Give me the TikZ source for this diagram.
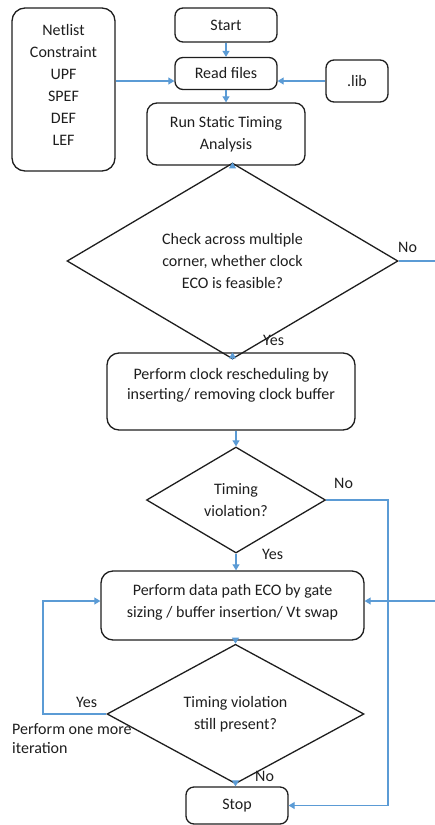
\documentclass[tikz,border=0pt]{standalone}
\usepackage{fontspec}
\setmainfont{Carlito}
\usetikzlibrary{shapes.geometric,arrows.meta}
\definecolor{arrblue}{HTML}{5B9BD5}
\definecolor{ink}{HTML}{1E1E1E}
\tikzset{
  box/.style={draw=ink, line width=1.3pt, rounded corners=8pt, align=center, inner sep=0pt},
  dia/.style={draw=ink, line width=1.3pt, diamond, align=center, inner sep=0pt},
  arr/.style={draw=arrblue, line width=1.1pt, -{Triangle[length=6pt,width=7pt]}},
  wire/.style={draw=arrblue, line width=1.1pt},
  lbl/.style={anchor=base west, inner sep=0pt, text=ink}
}
\begin{document}
\begin{tikzpicture}[x=1pt, y=-1pt, font=\fontsize{16}{22}\selectfont, text=ink]
\useasboundingbox (0,0) rectangle (435,825);
% nodes
\node[box, rounded corners=13pt] (net) at (63.5,89.5)
  {\parbox[c][163pt][t]{103pt}{\fontsize{16}{22}\selectfont\centering\vspace*{16pt}Netlist\\Constraint\\UPF\\SPEF\\DEF\\LEF}};
\node[box, minimum width=102pt, minimum height=34pt] (start) at (226,25) {Start};
\node[box, minimum width=102pt, minimum height=32pt] (read) at (226,73.5) {Read files};
\node[box, minimum width=62pt, minimum height=42pt] (lib) at (357,81) {.lib};
\node[box, rounded corners=10pt, minimum width=158pt, minimum height=62pt] (sta) at (226,134) {Run Static Timing\\Analysis};
\node[dia, minimum width=331pt, minimum height=152pt] (d1) at (232.5,261) {Check across multiple\\corner, whether clock\\ECO is feasible?};
\node[box, rounded corners=12pt] (clk) at (231,391.5)
  {\parbox[c][77pt][t]{248pt}{\fontsize{16}{20}\selectfont\centering\vspace*{15pt}Perform clock rescheduling by\\inserting/ removing clock buffer}};
\node[dia, minimum width=179pt, minimum height=106pt] (d2) at (236,500) {Timing\\violation?};
\node[box, rounded corners=12pt] (data) at (232.5,605.5)
  {\parbox[c][69pt][t]{263pt}{\fontsize{16}{22}\selectfont\centering\vspace*{13pt}Perform data path ECO by gate\\sizing / buffer insertion/ Vt swap}};
\node[dia, minimum width=257pt, minimum height=118pt] (d3) at (235.5,714) {Timing violation\\still present?};
\node[box, minimum width=102pt, minimum height=37pt] (stop) at (237,805.5) {Stop};
% coordinates for free ends and bends
\coordinate (edge1) at (435,261);
\coordinate (edge2) at (435,601);
\coordinate (rbend) at (388,0);
\coordinate (lbend) at (43,601);
% connectors
\draw[arr] (start.south) -- (read.north);
\draw[arr] (net.east |- lib.west) -- (read.west |- lib.west);
\draw[arr] (lib.west) -- (read.east |- lib.west);
\draw[arr] (read.south) -- (read.south |- sta.north);
\draw[arr] (sta.south -| d1.north) -- (d1.north);
\draw[arr] (d1.south) -- (d1.south |- clk.north);
\draw[wire] (d1.east) -- (edge1);
\draw[arr] (clk.south -| d2.north) -- (d2.north);
\draw[arr] (d2.south) -- (d2.south |- data.north);
\draw[arr] (d2.east) -| (rbend |- stop.east) -- (stop.east);
\draw[arr] (edge2) -- (edge2 -| data.east);
\draw[arr] (data.south -| d3.north) -- (d3.north);
\draw[arr] (d3.south) -- (d3.south |- stop.north);
\draw[arr] (d3.west) -| (lbend) -- (lbend -| data.west);
% labels
\node[lbl] (no1) at (398,252) {No};
\node[lbl] (yes1) at (263,345) {Yes};
\node[lbl] (no2) at (334,488) {No};
\node[lbl] (yes2) at (262,559) {Yes};
\node[lbl] (yes3) at (76,707) {Yes};
\node[lbl] (no3) at (255,781) {No};
\node[lbl, align=left, font=\fontsize{16}{19}\selectfont] (iter) at (12,753) {Perform one more\\iteration};
\end{tikzpicture}
\end{document}
